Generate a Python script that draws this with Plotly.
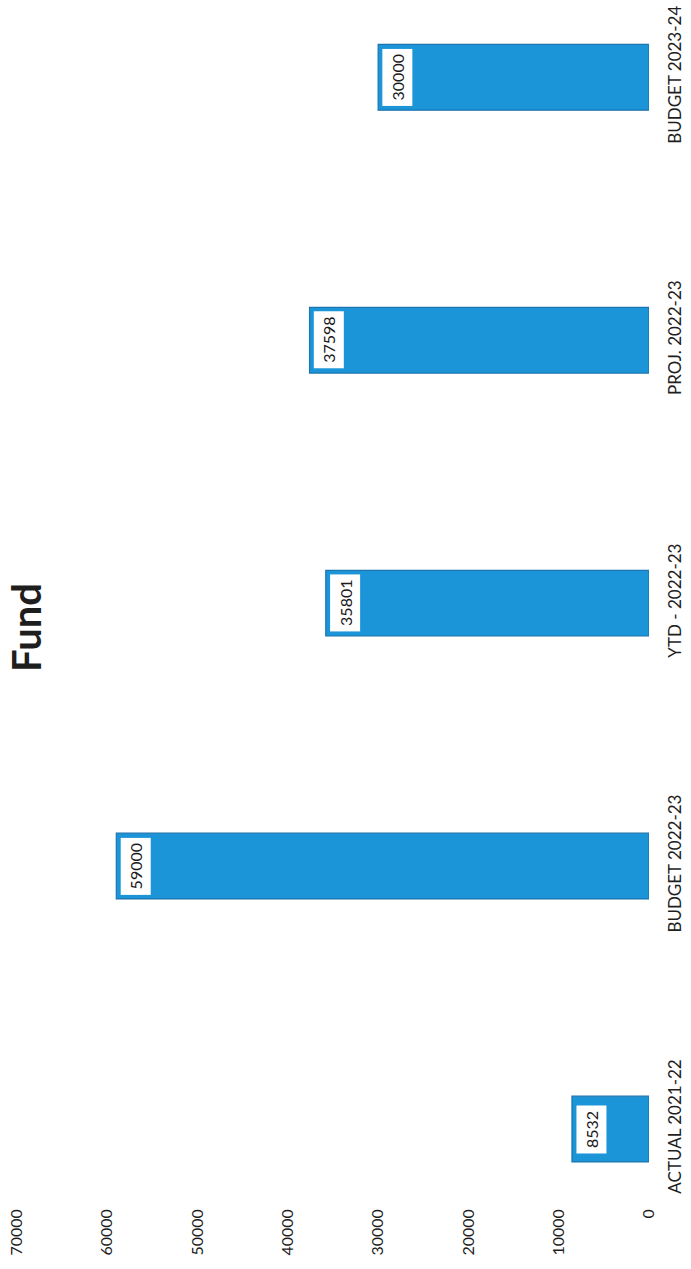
import plotly.graph_objects as go

# Fund figures per reporting period
categories = ["ACTUAL 2021-22", "BUDGET 2022-23", "YTD - 2022-23", "PROJ. 2022-23", "BUDGET 2023-24"]
values = [8532, 59000, 35801, 37598, 30000]
tick_values = [0, 10000, 20000, 30000, 40000, 50000, 60000, 70000]
tick_labels = ["0", "10000", "20000", "30000", "40000", "50000", "60000", "70000"]
title_text = "Fund"

FONT = "Lato"
BAR_FILL = "#1b95d8"
BAR_EDGE = "#1c74b0"

fig = go.Figure()
fig.add_trace(go.Bar(
    x=values,
    y=categories,
    orientation="h",
    width=0.25,
    marker=dict(color=BAR_FILL, line=dict(color=BAR_EDGE, width=1.2)),
    hoverinfo="skip",
    showlegend=False,
))

# value labels in white boxes near each bar's tip
for cat, val in zip(categories, values):
    fig.add_annotation(
        x=val, y=cat, xref="x", yref="y",
        text=str(val), textangle=-90, showarrow=False,
        xanchor="center", yanchor="middle", xshift=19,
        bgcolor="white", borderpad=5,
        font=dict(family=FONT, size=16, color="#1a1a1a"),
    )

fig.add_annotation(
    x=26, y=628, xref="paper", yref="paper",
    text="<b>" + title_text + "</b>", textangle=-90, showarrow=False,
    xanchor="center", yanchor="middle",
    font=dict(family=FONT, size=40, color="#1e1e1e"),
)

fig.update_layout(
    width=691, height=1269,
    margin=dict(l=17, r=42, t=0, b=64, autoexpand=False),
    paper_bgcolor="white", plot_bgcolor="white",
    xaxis=dict(
        range=[70000, 0], tickmode="array", tickvals=tick_values, ticktext=tick_labels,
        tickangle=-90, showgrid=False, zeroline=False, showline=False,
        tickfont=dict(family=FONT, size=16, color="#1e1e1e"), automargin=False,
    ),
    yaxis=dict(
        side="right", range=[-0.289, 4.294], tickangle=-90,
        showgrid=False, zeroline=False, showline=False, ticks="",
        ticklabelstandoff=14,
        tickfont=dict(family=FONT, size=17, color="#1e1e1e"), automargin=False,
    ),
)

# place the title in pixel terms relative to the plot paper area
fig.layout.annotations[-1].update(
    x=(26 - 17) / (691 - 17 - 42),
    y=1 - 628 / (1269 - 64),
    xanchor="center", yanchor="middle",
)

fig.write_html("out.html")
